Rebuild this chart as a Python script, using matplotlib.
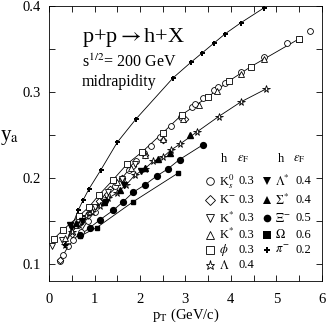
import numpy as np
import matplotlib
matplotlib.use("Agg")
import matplotlib.pyplot as plt
from matplotlib.ticker import MultipleLocator

plt.rcParams['font.family'] = ['Liberation Serif', 'DejaVu Serif']
plt.rcParams['mathtext.fontset'] = 'stix'

# --- datos ---
pion_pt = [0.36, 0.50, 0.64, 0.75, 0.88, 1.14, 1.50, 1.91, 2.73, 3.12, 3.37, 3.62, 3.87, 4.22, 4.72]
pion_ya = [0.122, 0.143, 0.162, 0.174, 0.187, 0.209, 0.241, 0.268, 0.316, 0.334, 0.345, 0.356, 0.367, 0.380, 0.397]

k0s_pt = [0.24, 0.31, 0.42, 0.53, 0.70, 0.85, 1.00, 1.12, 1.28, 1.45, 1.60, 1.75, 1.92, 2.08, 2.25,
          2.45, 2.68, 2.90, 3.14, 3.21, 3.38, 3.62, 3.71, 3.87, 4.22, 4.74, 5.23, 5.74]
k0s_ya = [0.103, 0.110, 0.120, 0.127, 0.137, 0.150, 0.160, 0.172, 0.180, 0.190, 0.199, 0.209, 0.219, 0.229, 0.237,
          0.247, 0.260, 0.271, 0.282, 0.286, 0.292, 0.302, 0.305, 0.310, 0.323, 0.340, 0.356, 0.370]

kminus_pt = [0.24, 0.50, 0.70, 0.90, 1.10, 1.35, 1.60, 1.85, 2.10, 2.50, 3.00]
kminus_ya = [0.104, 0.135, 0.148, 0.160, 0.173, 0.187, 0.200, 0.213, 0.226, 0.244, 0.268]

kstar_dn_pt = [0.07, 0.28, 0.50, 0.75, 1.00, 1.30, 1.60, 1.90]
kstar_dn_ya = [0.120, 0.128, 0.140, 0.152, 0.166, 0.183, 0.199, 0.216]

kstar_up_pt = [0.35, 0.60, 0.90, 1.20, 1.50, 1.80, 2.10, 2.50, 2.95, 3.30, 3.70, 4.22, 4.74, 5.50]
kstar_up_ya = [0.130, 0.145, 0.163, 0.178, 0.195, 0.211, 0.226, 0.245, 0.268, 0.285, 0.301, 0.321, 0.338, 0.361]

phi_pt = [0.11, 0.30, 0.65, 0.88, 1.10, 1.40, 1.72, 2.05, 2.50, 2.92, 3.50, 3.95, 4.44, 5.49]
phi_ya = [0.129, 0.139, 0.155, 0.166, 0.180, 0.197, 0.216, 0.230, 0.252, 0.273, 0.294, 0.312, 0.329, 0.361]

lam_pt = [0.34, 0.50, 0.65, 0.81, 0.95, 1.12, 1.30, 1.49, 1.70, 1.89, 2.10, 2.29, 2.51, 2.68, 2.88, 3.25, 3.73, 4.22, 4.77]
lam_ya = [0.122, 0.137, 0.145, 0.156, 0.160, 0.167, 0.176, 0.182, 0.192, 0.203, 0.210, 0.219, 0.224, 0.232, 0.239, 0.253, 0.271, 0.288, 0.303]

lamstar_pt = [0.46, 0.72, 1.25, 1.64, 2.03]
lamstar_ya = [0.145, 0.150, 0.172, 0.192, 0.208]

sigstar_pt = [0.60, 1.20, 1.55, 2.10, 2.40, 2.65, 3.10]
sigstar_ya = [0.147, 0.172, 0.186, 0.211, 0.222, 0.229, 0.250]

xi_pt = [0.68, 0.90, 1.12, 1.41, 1.63, 1.85, 2.12, 2.37, 2.61, 2.87, 3.38]
xi_ya = [0.133, 0.142, 0.151, 0.162, 0.172, 0.183, 0.192, 0.202, 0.210, 0.221, 0.238]

omega_pt = [0.68, 1.05, 1.85, 2.83]
omega_ya = [0.132, 0.142, 0.172, 0.205]

# leyenda: (marcador, relleno, hadron, eps_F)
leyenda_izq = [('o', 'none', r'K$_s^0$', '0.3'), ('D', 'none', r'K$^{-}$', '0.3'),
               ('v', 'none', r'K$^{*}$', '0.3'), ('^', 'none', r'K$^{*}$', '0.3'),
               ('s', 'none', r'$\phi$', '0.3'), ('*', 'none', r'$\Lambda$', '0.4')]
leyenda_der = [('v', 'k', r'$\Lambda^{*}$', '0.4'), ('^', 'k', r'$\Sigma^{*}$', '0.4'),
               ('o', 'k', r'$\Xi^{-}$', '0.5'), ('s', 'k', r'$\Omega$', '0.6'),
               ('P', 'k', r'$\pi^{-}$', '0.2')]

fig = plt.figure(figsize=(3.27, 3.27), dpi=100)
ax = fig.add_axes([0.150, 0.141, 0.834, 0.842])

lw = 0.6
ms = 4.2
# curvas
for xs, ys in [(pion_pt, pion_ya), (phi_pt, phi_ya), (k0s_pt[:12], k0s_ya[:12]),
               (lam_pt, lam_ya), (xi_pt, xi_ya), (omega_pt, omega_ya)]:
    ax.plot(xs, ys, '-', color='k', lw=lw, zorder=1)

abiertos = dict(mfc='white', mec='k', mew=0.6, ms=ms, ls='none', zorder=2)
ax.plot(k0s_pt, k0s_ya, 'o', **abiertos)
ax.plot(kminus_pt, kminus_ya, 'D', **{**abiertos, 'ms': 3.4})
ax.plot(kstar_dn_pt, kstar_dn_ya, 'v', **abiertos)
ax.plot(kstar_up_pt, kstar_up_ya, '^', **abiertos)
ax.plot(phi_pt, phi_ya, 's', **{**abiertos, 'ms': 3.8})
ax.plot(lam_pt, lam_ya, '*', **{**abiertos, 'ms': 5.5})

llenos = dict(color='k', ms=ms, ls='none', zorder=3)
ax.plot(lamstar_pt, lamstar_ya, 'v', **llenos)
ax.plot(sigstar_pt, sigstar_ya, '^', **llenos)
ax.plot(xi_pt, xi_ya, 'o', **llenos)
ax.plot(omega_pt, omega_ya, 's', **{**llenos, 'ms': 3.5})
ax.plot(pion_pt, pion_ya, 'P', **{**llenos, 'ms': 3.6, 'mew': 0})

ax.set_xlim(0, 6)
ax.set_ylim(0.08, 0.4)
ax.xaxis.set_major_locator(MultipleLocator(1))
ax.xaxis.set_minor_locator(MultipleLocator(0.5))
ax.set_yticks([0.1, 0.2, 0.3, 0.4])
ax.set_yticklabels(['0.1', '0.2', '0.3', '0.4'])
ax.yaxis.set_minor_locator(MultipleLocator(0.05))
ax.tick_params(which='both', direction='in', top=True, right=True, length=4, width=0.6, labelsize=10.5)
ax.tick_params(axis='x', pad=9)
ax.tick_params(axis='y', pad=6)
for s in ax.spines.values():
    s.set_linewidth(0.6)

ax.set_xlabel(r'p$_{\rm T}$ (GeV/c)', fontsize=10.5, labelpad=0)
ax.set_ylabel(r'y$_{\rm a}$', fontsize=15, rotation=0, ha='center', va='center')
ax.yaxis.set_label_coords(-0.145, 0.52)

ax.text(0.72, 0.358, r'p+p$\rightarrow$h+X', fontsize=16)
ax.text(0.72, 0.329, r's$^{1/2}$= 200 GeV', fontsize=11.5)
ax.text(0.72, 0.306, 'midrapidity', fontsize=11.5)

# leyenda manual
tr = ax.transAxes
filas = [0.361, 0.293, 0.228, 0.167, 0.113, 0.056]
ax.text(0.642, 0.442, 'h', fontsize=9, transform=tr, va='center', ha='center')
ax.text(0.711, 0.442, r'$\varepsilon_{\rm F}$', fontsize=9, transform=tr, va='center', ha='center')
ax.text(0.850, 0.442, 'h', fontsize=9, transform=tr, va='center', ha='center')
ax.text(0.916, 0.442, r'$\varepsilon_{\rm F}$', fontsize=9, transform=tr, va='center', ha='center')
for (m, fc, nom, eps), y in zip(leyenda_izq, filas):
    ax.plot([0.590], [y], m, transform=tr, mfc='white' if fc == 'none' else fc, mec='k', mew=0.6,
            ms=5.5 if m != '*' else 6.5, clip_on=False)
    ax.text(0.625, y, nom, fontsize=9, transform=tr, va='center')
    ax.text(0.695, y, eps, fontsize=9, transform=tr, va='center')
for (m, fc, nom, eps), y in zip(leyenda_der, filas):
    ax.plot([0.798], [y], m, transform=tr, color='k', ms=5.5 if m != 'P' else 4.5, mew=0, clip_on=False)
    ax.text(0.830, y, nom, fontsize=9, transform=tr, va='center')
    ax.text(0.905, y, eps, fontsize=9, transform=tr, va='center')

fig.savefig('out.png', dpi=100)
